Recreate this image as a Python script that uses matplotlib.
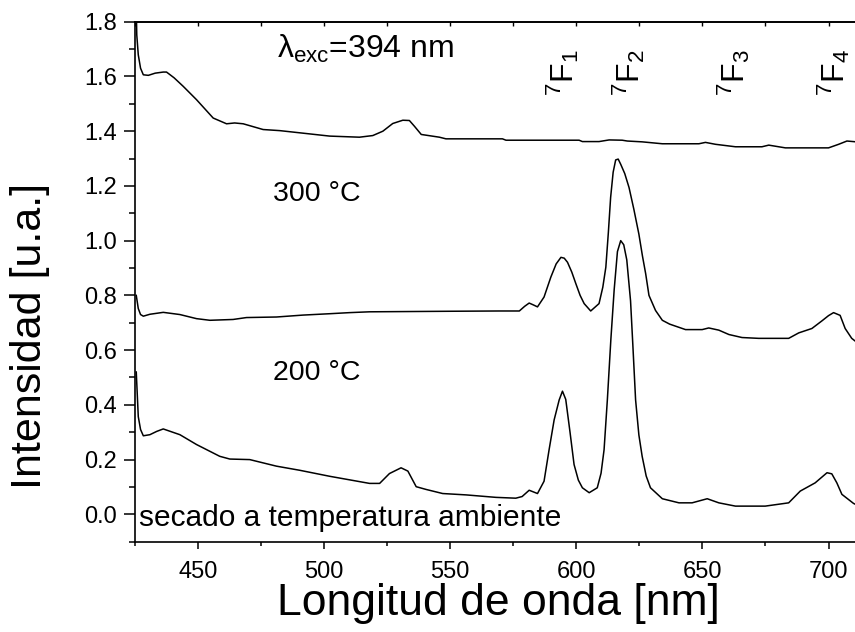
import matplotlib.pyplot as plt
from matplotlib.ticker import MultipleLocator, FormatStrFormatter

plt.rcParams['font.family'] = ['Liberation Sans', 'DejaVu Sans']
plt.rcParams['mathtext.fontset'] = 'custom'
plt.rcParams['mathtext.rm'] = 'Liberation Sans'
plt.rcParams['mathtext.it'] = 'Liberation Sans'

# espectros (longitud de onda en nm, intensidad en u.a.)
wl_300 = [425.5, 425.7, 426.3, 427.2, 428.3, 430.3, 433.0, 436.2, 437.5, 440.5,
          444.1, 449.4, 456.0, 461.3, 464.5, 467.9, 475.8, 482.4, 494.3, 502.2,
          514.0, 519.3, 523.3, 527.2, 531.2, 533.8, 535.8, 538.5, 545.7, 548.3,
          570.7, 572.1, 601.1, 602.4, 609.0, 613.0, 618.2, 620.2, 626.1, 634.1,
          648.6, 651.2, 655.2, 663.1, 673.6, 676.3, 682.9, 700.0, 704.0, 707.3, 711.0]
int_300 = [1.85, 1.752, 1.679, 1.63, 1.606, 1.604, 1.612, 1.616, 1.616, 1.595,
           1.564, 1.515, 1.448, 1.427, 1.43, 1.427, 1.406, 1.402, 1.390, 1.382,
           1.378, 1.384, 1.40, 1.428, 1.44, 1.439, 1.418, 1.388, 1.378, 1.372,
           1.372, 1.367, 1.367, 1.362, 1.362, 1.368, 1.367, 1.364, 1.361, 1.354,
           1.354, 1.359, 1.352, 1.343, 1.343, 1.349, 1.339, 1.339, 1.352, 1.364, 1.361]

wl_200 = [425.5, 426.3, 427.2, 428.3, 430.9, 436.2, 442.8, 449.4, 454.7, 463.9,
          469.2, 481.1, 491.6, 502.2, 510.1, 518.0, 550.0, 569.4, 577.4, 579.5,
          581.3, 583.0, 584.6, 587.2, 589.9, 592.0, 593.9, 595.2, 596.5, 598.2,
          599.8, 601.5, 603.1, 605.7, 609.0, 610.5, 611.7, 612.7, 613.6, 614.6,
          615.6, 616.6, 617.6, 619.2, 620.9, 622.8, 624.8, 626.2, 627.5, 628.8,
          631.4, 634.1, 637.0, 643.3, 649.9, 652.5, 656.5, 660.5, 665.7, 672.3,
          684.2, 688.2, 693.4, 697.4, 700.0, 702.0, 704.6, 706.6, 709.2, 711.0]
int_200 = [0.80, 0.752, 0.73, 0.724, 0.731, 0.738, 0.730, 0.715, 0.709, 0.712,
           0.719, 0.721, 0.728, 0.733, 0.737, 0.740, 0.742, 0.743, 0.743, 0.76,
           0.772, 0.765, 0.758, 0.794, 0.867, 0.915, 0.939, 0.936, 0.921, 0.885,
           0.843, 0.800, 0.770, 0.743, 0.770, 0.830, 0.903, 1.030, 1.158, 1.250,
           1.295, 1.298, 1.279, 1.245, 1.194, 1.115, 1.024, 0.945, 0.879, 0.80,
           0.745, 0.709, 0.695, 0.675, 0.675, 0.681, 0.673, 0.657, 0.646, 0.643,
           0.643, 0.663, 0.679, 0.707, 0.726, 0.737, 0.727, 0.679, 0.643, 0.63]

wl_amb = [425.5, 426.3, 427.2, 428.3, 430.9, 433.6, 436.2, 442.8, 449.4, 458.6,
          462.6, 470.5, 481.1, 490.3, 502.2, 518.0, 522.0, 525.9, 530.5, 533.2,
          536.5, 540.4, 547.0, 556.3, 568.1, 576.0, 578.5, 581.3, 584.6, 587.2,
          589.2, 591.2, 593.2, 594.5, 595.8, 597.5, 599.1, 600.8, 602.4, 605.1,
          608.3, 609.8, 611.0, 612.3, 613.7, 615.0, 616.3, 617.6, 618.8, 620.0,
          621.5, 622.4, 623.5, 624.8, 626.1, 627.7, 629.4, 634.1, 640.7, 645.9,
          651.9, 656.5, 663.1, 674.9, 684.2, 688.8, 694.7, 699.4, 701.3, 703.3,
          705.3, 709.9, 711.0]
int_amb = [0.52, 0.357, 0.31, 0.287, 0.291, 0.303, 0.312, 0.291, 0.255, 0.212,
           0.202, 0.200, 0.176, 0.161, 0.139, 0.113, 0.113, 0.149, 0.170, 0.158,
           0.101, 0.091, 0.076, 0.071, 0.062, 0.059, 0.065, 0.088, 0.076, 0.121,
           0.236, 0.345, 0.418, 0.450, 0.42, 0.30, 0.182, 0.125, 0.097, 0.079,
           0.097, 0.150, 0.236, 0.418, 0.64, 0.82, 0.960, 1.0, 0.985, 0.93,
           0.78, 0.62, 0.418, 0.290, 0.212, 0.140, 0.097, 0.057, 0.042, 0.042,
           0.057, 0.042, 0.030, 0.030, 0.042, 0.085, 0.115, 0.152, 0.148, 0.115,
           0.073, 0.040, 0.035]

transiciones = [r'$^{7}$F$_{1}$', r'$^{7}$F$_{2}$', r'$^{7}$F$_{3}$', r'$^{7}$F$_{4}$']
pos_transiciones = [594.7, 620.9, 662.4, 702.0]

fig = plt.figure(figsize=(8.55, 6.32), dpi=100)
ax = fig.add_axes([135 / 855, 90.3 / 632, 720 / 855, 520 / 632])

for wl, inten in [(wl_300, int_300), (wl_200, int_200), (wl_amb, int_amb)]:
    ax.plot(wl, inten, color='black', lw=1.1)

ax.set_xlim(425, 710.5)
ax.set_ylim(-0.1, 1.8)
ax.xaxis.set_major_locator(MultipleLocator(50))
ax.xaxis.set_minor_locator(MultipleLocator(25))
ax.yaxis.set_major_locator(MultipleLocator(0.2))
ax.yaxis.set_minor_locator(MultipleLocator(0.1))
ax.yaxis.set_major_formatter(FormatStrFormatter('%.1f'))

ax.spines['right'].set_visible(False)
for s in ['left', 'bottom', 'top']:
    ax.spines[s].set_linewidth(1.2)

ax.tick_params(axis='y', which='major', direction='out', length=8, width=1.1,
               labelsize=17, pad=5)
ax.tick_params(axis='y', which='minor', direction='out', length=4.5, width=1.1)
ax.tick_params(axis='x', which='major', direction='out', length=5, width=1.1,
               labelsize=17, pad=9)
ax.tick_params(axis='x', which='minor', direction='out', length=3, width=1.1)

top = ax.secondary_xaxis('top')
top.xaxis.set_major_locator(MultipleLocator(25))
top.tick_params(direction='in', length=3, width=1.0, labeltop=False)
top.spines['top'].set_linewidth(1.2)

ax.set_xlabel('Longitud de onda [nm]', fontsize=32)
ax.set_ylabel('Intensidad [u.a.]', fontsize=31)
ax.xaxis.set_label_coords(0.504, -0.080)
ax.yaxis.set_label_coords(-0.118, 0.395)

ax.text(481.2, 1.669, r'$\lambda_{\mathrm{exc}}$=394 nm', fontsize=23)
ax.text(479.6, 1.145, '300 °C', fontsize=20.5)
ax.text(479.6, 0.491, '200 °C', fontsize=20.5)
ax.text(426.6, -0.044, 'secado a temperatura ambiente', fontsize=21.5)
for etiqueta, x in zip(transiciones, pos_transiciones):
    ax.text(x, 1.53, etiqueta, rotation=90, ha='center', va='bottom', fontsize=23)

fig.savefig('out.png', dpi=100)
